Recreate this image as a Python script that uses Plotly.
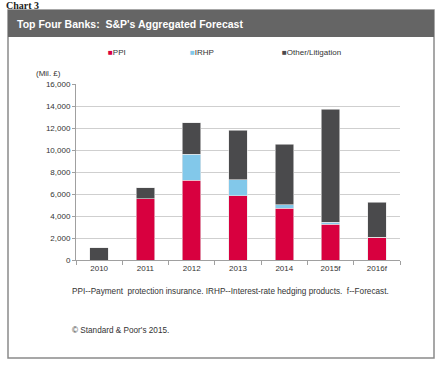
import plotly.graph_objects as go

years = ["2010", "2011", "2012", "2013", "2014", "2015f", "2016f"]
series_names = ["PPI", "IRHP", "Other/Litigation"]
ppi = [0, 5570, 7240, 5820, 4700, 3240, 2090]
irhp = [0, 0, 2360, 1480, 330, 210, 0]
other = [1100, 980, 2880, 4490, 5490, 10250, 3150]
y_ticks = [0, 2000, 4000, 6000, 8000, 10000, 12000, 14000, 16000]
colors = ["#d8003f", "#82c8ea", "#4a4a4c"]

W, H = 445, 374
L, R, T, B = 76, 45, 84, 114

fig = go.Figure()
for name, vals, c in zip(series_names, [ppi, irhp, other], colors):
    fig.add_trace(go.Bar(x=years, y=vals, name=name, marker=dict(color=c, line=dict(color="#e6e6e6", width=0.6)),
                         width=0.4, showlegend=False))

font = "Liberation Sans, Arial, sans-serif"
fig.update_layout(
    width=W, height=H, barmode="stack",
    margin=dict(l=L, r=R, t=T, b=B, pad=0),
    paper_bgcolor="white", plot_bgcolor="white",
    font=dict(family=font, size=8, color="#333333"),
    xaxis=dict(type="category", showgrid=False, showline=True, linecolor="#a0a0a0", linewidth=1,
               ticks="outside", tickson="boundaries", ticklen=4, tickcolor="#a0a0a0",
               tickfont=dict(size=8, color="#333333")),
    yaxis=dict(range=[0, 16000], tickvals=y_ticks, tickformat=",d", showgrid=True, gridcolor="#cfcfcf", gridwidth=1,
               showline=True, linecolor="#a0a0a0", linewidth=1, ticks="outside", ticklen=3, tickcolor="#a0a0a0",
               zeroline=False, tickfont=dict(size=8, color="#333333")),
)

def px2x(px):
    return (px - L) / (W - L - R)

def px2y(py):
    return 1 - (py - T) / (H - T - B)

shapes = [
    dict(type="rect", xref="paper", yref="paper", x0=px2x(8), x1=px2x(434), y0=px2y(358), y1=px2y(10),
         line=dict(color="#8a8a8a", width=1.5), fillcolor="rgba(0,0,0,0)", layer="below"),
    dict(type="rect", xref="paper", yref="paper", x0=px2x(8), x1=px2x(434), y0=px2y(37), y1=px2y(10),
         line=dict(width=0), fillcolor="#656565", layer="below"),
]
fig.update_layout(shapes=shapes)

ann = [
    dict(text="<b>Chart 3</b>", x=px2x(4), y=px2y(5), xanchor="left", yanchor="middle",
         font=dict(family="Liberation Serif, Times New Roman, serif", size=10, color="#222")),
    dict(text="<b>Top Four Banks:  S&P's Aggregated Forecast</b>", x=px2x(15), y=px2y(24), xanchor="left", yanchor="middle",
         font=dict(size=10.5, color="white")),
    dict(text="(Mil. £)", x=px2x(34), y=px2y(74), xanchor="left", yanchor="middle", font=dict(size=8, color="#333")),
    dict(text="PPI--Payment  protection insurance. IRHP--Interest-rate hedging products.  f--Forecast.",
         x=px2x(70), y=px2y(291), xanchor="left", yanchor="middle", font=dict(size=8.2, color="#333")),
    dict(text="© Standard & Poor's 2015.", x=px2x(70), y=px2y(330), xanchor="left", yanchor="middle",
         font=dict(size=8.2, color="#333")),
]
leg_x = [106, 188, 280]
for name, c, lx in zip(series_names, colors, leg_x):
    ann.append(dict(text=f"<span style='color:{c}'>■</span>{name}", x=px2x(lx), y=px2y(53), xanchor="left",
                    yanchor="middle", font=dict(size=8, color="#333")))
for a in ann:
    a.update(xref="paper", yref="paper", showarrow=False)
fig.update_layout(annotations=ann)

fig.write_html("out.html", config={"displayModeBar": False},
               post_script="document.body.style.margin='0';")
